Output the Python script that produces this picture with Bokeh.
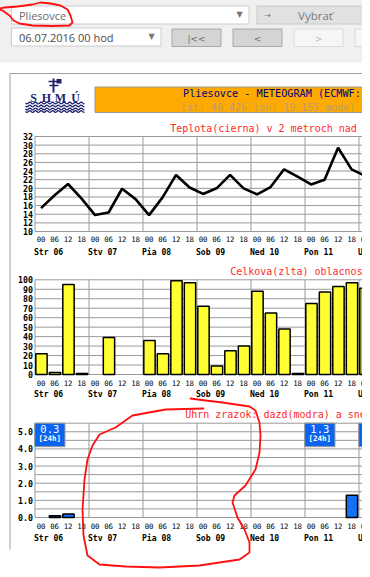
import numpy as np
from bokeh.plotting import figure
from bokeh.models import Range1d
from bokeh.embed import file_html
from bokeh.resources import INLINE
from bokeh.core.properties import value

# ---------------- data ----------------
station = "Pliesovce"
run_label = "06.07.2016 00 hod"
header_line = "Pliesovce - METEOGRAM (ECMWF:"
coord_line = "lat: 48.426  lon: 19.155  model"
hour_labels = ["00", "06", "12", "18"]
day_labels = ["Str 06", "Stv 07", "Pia 08", "Sob 09", "Ned 10", "Pon 11", "Uto 12"]
temperature = [15.4, 18.4, 21.0, 17.6, 13.8, 14.4, 19.9, 17.5, 13.8, 17.9,
               23.1, 20.2, 18.7, 20.0, 23.1, 20.0, 18.6, 20.3, 24.4, 22.7,
               20.9, 22.0, 29.4, 24.4, 22.9]
cloud_cover = [22, 2, 95, 1, 0, 39, 0, 0, 36, 22,
               99, 97, 72, 9, 25, 30, 88, 65, 48, 1,
               75, 87, 93, 97, 91]
precip_6h = [0.0, 0.1, 0.2, 0.0, 0.0, 0.0, 0.0, 0.0, 0.0, 0.0,
             0.0, 0.0, 0.0, 0.0, 0.0, 0.0, 0.0, 0.0, 0.0, 0.0,
             0.0, 0.0, 0.0, 1.3, 0.0]
precip_24h = [0.3, 0.0, 0.0, 0.0, 0.0, 1.3, 0.4]
temp_ticks = [10, 12, 14, 16, 18, 20, 22, 24, 26, 28, 30, 32]
cloud_ticks = [0, 10, 20, 30, 40, 50, 60, 70, 80, 90, 100]
precip_ticks = [0.0, 1.0, 2.0, 3.0, 4.0, 5.0]
precip_grid = [0.0, 0.5, 1.0, 1.5, 2.0, 2.5, 3.0, 3.5, 4.0, 4.5, 5.0, 5.5]
titles = ["Teplota(cierna) v 2 metroch nad", "Celkova(zlta) oblacnos",
          "Uhrn zrazok: dazd(modra) a sne"]

# ---------------- figure ----------------
W, H = 370, 577
MONO = value("DejaVu Sans Mono")
SANS = value("Open Sans")
DSANS = value("DejaVu Sans")

p = figure(width=W, height=H, x_range=Range1d(0, W), y_range=Range1d(H, 0),
           output_backend="svg", toolbar_location=None, min_border=0,
           x_axis_location=None, y_axis_location=None)
p.outline_line_color = None
p.background_fill_color = "white"
p.border_fill_color = "white"
p.grid.visible = False
p.margin = (-8, -8, -8, -8)

X0, SW = 42.5, 13.5
p.extra_x_ranges = {"slot": Range1d(-X0 / SW, (W - X0) / SW)}


def band(v_top, px_top, v_bot, px_bot):
    k = (v_top - v_bot) / (px_bot - px_top)
    return Range1d(v_bot - (H - px_bot) * k, v_top + px_top * k)


p.extra_y_ranges = {"temp": band(32, 144, 10, 239),
                    "cloud": band(100, 287.3, 0, 382),
                    "rain": band(5.5, 430.7, 0, 525)}

# ---------------- header (page chrome) ----------------
p.quad(left=5, right=W + 5, top=0, bottom=70, fill_color="#f0f0f0", line_color=None)
# station select
p.quad(left=19, right=256.5, top=13.5, bottom=31.5, fill_color="white", line_color="#cccccc")
p.text(x=[26.5], y=[22.8], text=[station], text_font=SANS, text_font_size="11px",
       text_color="#6a6a6a", text_baseline="middle")
p.text(x=[247], y=[22], text=["▼"], text_font=DSANS, text_font_size="8px",
       text_color="#777777", text_align="center", text_baseline="middle")
# Vybrat button
p.quad(left=264.5, right=W + 5, top=13.5, bottom=31.5, fill_color="#e1e1e1", line_color="#c8c8c8")
p.text(x=[275], y=[22.5], text=["→"], text_font=DSANS, text_font_size="8px",
       text_color="#777777", text_align="center", text_baseline="middle")
p.text(x=[323], y=[23], text=["Vybrať"], text_font=SANS, text_font_size="11.5px",
       text_color="#7a7a7a", text_align="center", text_baseline="middle")
# run select
p.quad(left=19, right=168.5, top=35.5, bottom=53.5, fill_color="white", line_color="#cccccc")
p.text(x=[26.5], y=[45], text=[run_label], text_font=SANS, text_font_size="11px",
       text_color="#4a4a4a", text_baseline="middle")
p.text(x=[159], y=[43.5], text=["▼"], text_font=DSANS, text_font_size="8px",
       text_color="#777777", text_align="center", text_baseline="middle")
# navigation buttons
p.quad(left=[179.5, 240.5], right=[228.5, 289.5], top=36.5, bottom=54,
       fill_color="#d4d4d4", line_color="#a9a9a9")
p.quad(left=[301.5, 362.5], right=[350.5, 400], top=36.5, bottom=54,
       fill_color="#f6f6f6", line_color="#dadada")
p.text(x=[204, 265], y=[46, 46], text=["|<<", "<"], text_font=DSANS, text_font_size="9px",
       text_color="#707070", text_align="center", text_baseline="middle")
p.text(x=[326], y=[46], text=[">"], text_font=DSANS, text_font_size="9px",
       text_color="#b8b8b8", text_align="center", text_baseline="middle")

# ---------------- meteogram panel ----------------
p.line(x=[17.5, 17.5, W + 5], y=[557, 81, 81], line_color="#a0a0a0", line_width=1)
# logo
p.text(x=[41, 54, 68, 83], y=[105, 105, 105, 105], text=["S", "H", "M", "Ú"],
       text_font=value("Liberation Serif"), text_font_style="bold", text_font_size="12px",
       text_color="#22226e", text_align="center", text_baseline="middle")
wx = np.linspace(33, 92, 48)
for wy in [110.5, 113.5, 116.5, 119]:
    p.line(x=wx, y=wy + 1.0 * np.sin((wx - 33) * 1.1), line_color="#22226e", line_width=1.3)
p.line(x=[61, 61], y=[86, 100], line_color="#22226e", line_width=2)
p.line(x=[56, 68], y=[89, 89], line_color="#22226e", line_width=1.5)
p.line(x=[57, 66], y=[93, 93], line_color="#22226e", line_width=1.5)
p.quad(left=[64], right=[69], top=[86.5], bottom=[91], fill_color="#22226e", line_color=None)
# orange banner
p.quad(left=102.5, right=W + 5, top=94.5, bottom=120, fill_color="#ffaa00", line_color="#999999")
p.text(x=[190.5], y=[101], text=[header_line], text_font=MONO, text_font_size="10.2px",
       text_color="#000080", text_baseline="middle")
p.text(x=[188.3], y=[114.5], text=[coord_line], text_font=MONO, text_font_size="10px",
       text_color="#bd9d78", text_baseline="middle")

GRID = "#999999"
n_slots = 4 * len(day_labels)
shown_slots = len(temperature)
hour_x = [i + 0.45 for i in range(shown_slots)]
hour_txt = [hour_labels[i % 4] for i in range(shown_slots)]
day_x = [4 * d for d in range(len(day_labels))]


def chart(rname, gvals, tvals, ttxt, title, title_x, title_y, hour_y, day_y):
    gmin, gmax = min(gvals), max(gvals)
    p.segment(x0=0, x1=n_slots + 2, y0=gvals, y1=gvals, line_color=GRID, line_width=1,
              x_range_name="slot", y_range_name=rname)
    vx = list(range(0, n_slots + 1, 4))
    p.segment(x0=vx, x1=vx, y0=gmin, y1=gmax, line_color=GRID, line_width=1,
              x_range_name="slot", y_range_name=rname)
    p.text(x=40.5, y=tvals, text=ttxt, text_font=MONO, text_font_style="bold",
           text_font_size="8.3px", text_color="black", text_align="right",
           text_baseline="middle", y_range_name=rname)
    p.text(x=hour_x, y=hour_y, text=hour_txt, text_font=MONO, text_font_size="7.4px",
           text_color="black", text_align="center", text_baseline="middle",
           x_range_name="slot")
    p.text(x=day_x, y=day_y, text=day_labels, text_font=MONO, text_font_style="bold",
           text_font_size="8.1px", text_color="black", text_align="left",
           text_baseline="middle", x_offset=-1, x_range_name="slot")
    p.text(x=[title_x], y=[title_y], text=[title], text_font=MONO, text_font_size="10px",
           text_color="#ff2a2a", text_baseline="middle")


# temperature
chart("temp", temp_ticks, temp_ticks, [str(t) for t in temp_ticks], titles[0],
      177.7, 136, 246.8, 259)
p.line(x=[i + 0.45 for i in range(len(temperature))], y=temperature, line_color="black",
       line_width=2.6, x_range_name="slot", y_range_name="temp")

# cloud cover
chart("cloud", cloud_ticks, cloud_ticks, [str(t) for t in cloud_ticks], titles[1],
      237.7, 278.5, 390.3, 401.8)
cx = [i + 0.48 for i, v in enumerate(cloud_cover) if v > 0]
cv = [v for v in cloud_cover if v > 0]
p.vbar(x=cx, width=0.84, top=cv, bottom=0, fill_color="#ffff33", line_color="black",
       line_width=1.5, x_range_name="slot", y_range_name="cloud")

# precipitation
chart("rain", precip_grid, precip_ticks, ["%.1f" % t for t in precip_ticks], titles[2],
      192.7, 422.3, 533.4, 545.4)
rx = [i + 0.48 for i, v in enumerate(precip_6h) if v > 0]
rv = [v for v in precip_6h if v > 0]
p.vbar(x=rx, width=0.84, top=rv, bottom=0, fill_color="#1470f5", line_color="black",
       line_width=1.5, x_range_name="slot", y_range_name="rain")
bd = [d for d, v in enumerate(precip_24h) if v > 0]
bv = [precip_24h[d] for d in bd]
p.quad(left=[4 * d - 0.02 for d in bd], right=[4 * d + 2.22 for d in bd], top=5.5, bottom=4.13,
       fill_color="#0a64f0", line_color="#999999", x_range_name="slot", y_range_name="rain")
p.text(x=[4 * d + 1.1 for d in bd], y=436.8, text=["%.1f" % v for v in bv], text_font=MONO,
       text_font_size="10.5px", text_color="white", text_align="center",
       text_baseline="middle", x_range_name="slot")
p.text(x=[4 * d + 1.1 for d in bd], y=445.5, text=["[24h]" for _ in bd], text_font=MONO,
       text_font_style="bold", text_font_size="7.5px", text_color="white",
       text_align="center", text_baseline="middle", x_range_name="slot")

# ---------------- hand-drawn red marks ----------------
RED = "#ff1010"
p.line(x=[2, 12, 25, 40, 48, 58, 68, 75, 78, 80, 77, 60, 40, 27, 21, 17, 10, 3],
       y=[17, 15, 14, 12, 10, 11, 13, 17, 23, 30, 33, 33.5, 33, 31, 28, 23, 18, 16],
       line_color=RED, line_width=1.8, line_join="round", line_cap="round")
p.line(x=[211, 173, 140, 123, 107, 100, 95, 92, 90, 91, 95, 107, 133, 167, 207, 247, 257,
          257, 252, 245, 240, 242, 253, 263, 267, 268, 267, 263, 257, 230, 213, 198],
       y=[416, 417, 423, 435, 442, 453, 467, 487, 517, 543, 563, 572, 574, 575, 573, 567, 560,
          550, 537, 525, 510, 503, 493, 477, 460, 443, 430, 418, 414, 410, 408, 406],
       line_color=RED, line_width=1.8, line_join="round", line_cap="round")

open("out.html", "w").write(file_html(p, INLINE))
